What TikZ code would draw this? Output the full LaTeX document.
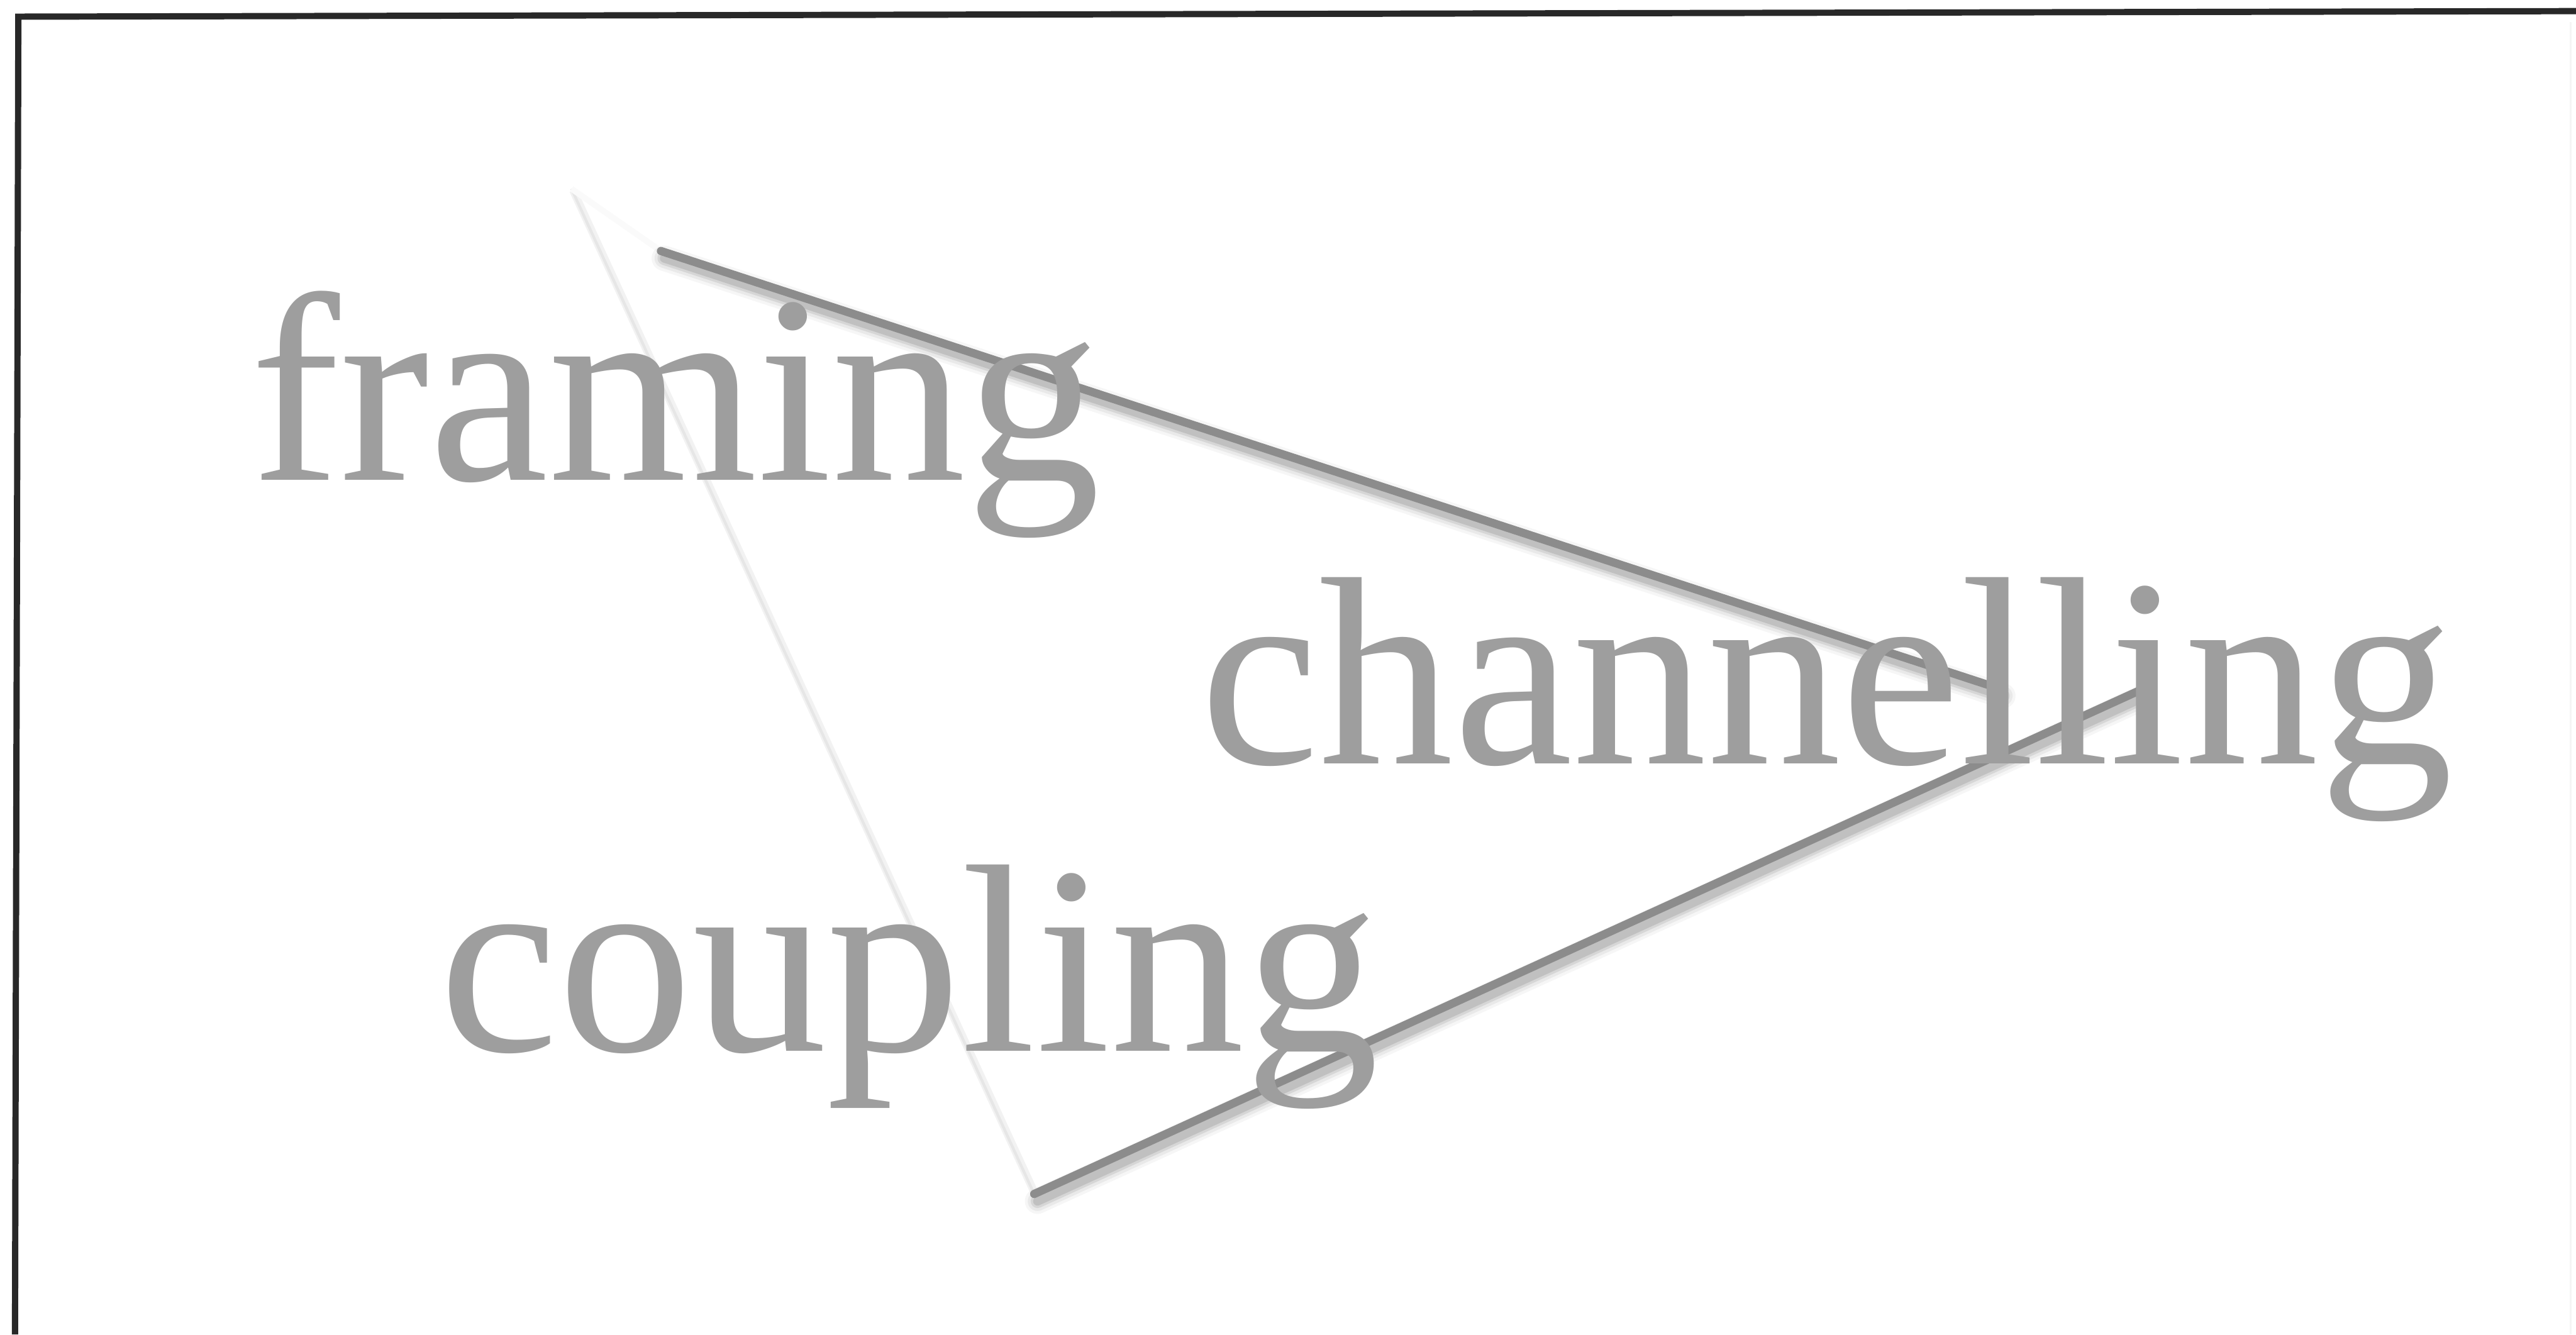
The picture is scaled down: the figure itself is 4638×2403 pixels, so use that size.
\documentclass[tikz,border=0pt]{standalone}
\usepackage{fontspec}
\setmainfont{Liberation Serif}
\definecolor{txt}{RGB}{158,158,158}
\definecolor{fold}{RGB}{140,140,140}
\definecolor{faint}{RGB}{230,230,230}
\definecolor{framec}{RGB}{40,40,40}
\tikzset{
  word/.style={font=\fontsize{137.5pt}{150pt}\selectfont, text=txt, inner sep=0pt, anchor=base west},
  framestroke/.style={draw=framec, line width=3.2pt},
  shadowstroke/.style={black, line cap=round, transform canvas={shift={(6,13)}}},
  foldstroke/.style={draw=fold, line width=4.2pt, line cap=round},
  faintstroke/.style={draw=faint, line width=1.4pt},
}
\newcommand{\myfold}[2]{%
  \draw[shadowstroke, line width=13pt, opacity=0.035] (#1) -- (#2);
  \draw[shadowstroke, line width=10pt, opacity=0.05] (#1) -- (#2);
  \draw[shadowstroke, line width=7pt, opacity=0.08] (#1) -- (#2);
  \draw[shadowstroke, line width=4.5pt, opacity=0.1] (#1) -- (#2);
  \draw[foldstroke] (#1) -- (#2);
}
\begin{document}
\begin{tikzpicture}[x=0.01cm,y=-0.01cm]
  \useasboundingbox[fill=white] (0,0) rectangle (4638,2403);
  % frame (top and left edges of a cropped box)
  \coordinate (fTR) at (4638,20);
  \coordinate (fTL) at (33,30);
  \coordinate (fBL) at (27,2403);
  \draw[framestroke] (fTR) -- (fTL) -- (fBL);
  \coordinate (rT) at (4628,40);
  \coordinate (rB) at (4628,2403);
  \draw[draw=black!4, line width=1pt] (rT) -- (rB);
  % triangle corners
  \coordinate (pA) at (1029,340);
  \coordinate (pB) at (1190,452);
  \coordinate (pC) at (3600,1240);
  \coordinate (pD) at (1862,2150);
  \coordinate (pE) at (3855,1242);
  % faint paper edges
  \draw[draw=black!5, line width=4pt, transform canvas={shift={(3,3)}}] (pA) -- (pD);
  \draw[faintstroke] (pA) -- (pD);
  \draw[draw=black!2, line width=3pt] (pA) -- (pB);
  % shadowed folds
  \myfold{pB}{pC}
  \myfold{pD}{pE}
  % words
  \node[word] (framing) at (450,864) {framing};
  \node[word] (channelling) at (2160,1375) {channelling};
  \node[word] (coupling) at (790,1893) {coupling};
\end{tikzpicture}
\end{document}
